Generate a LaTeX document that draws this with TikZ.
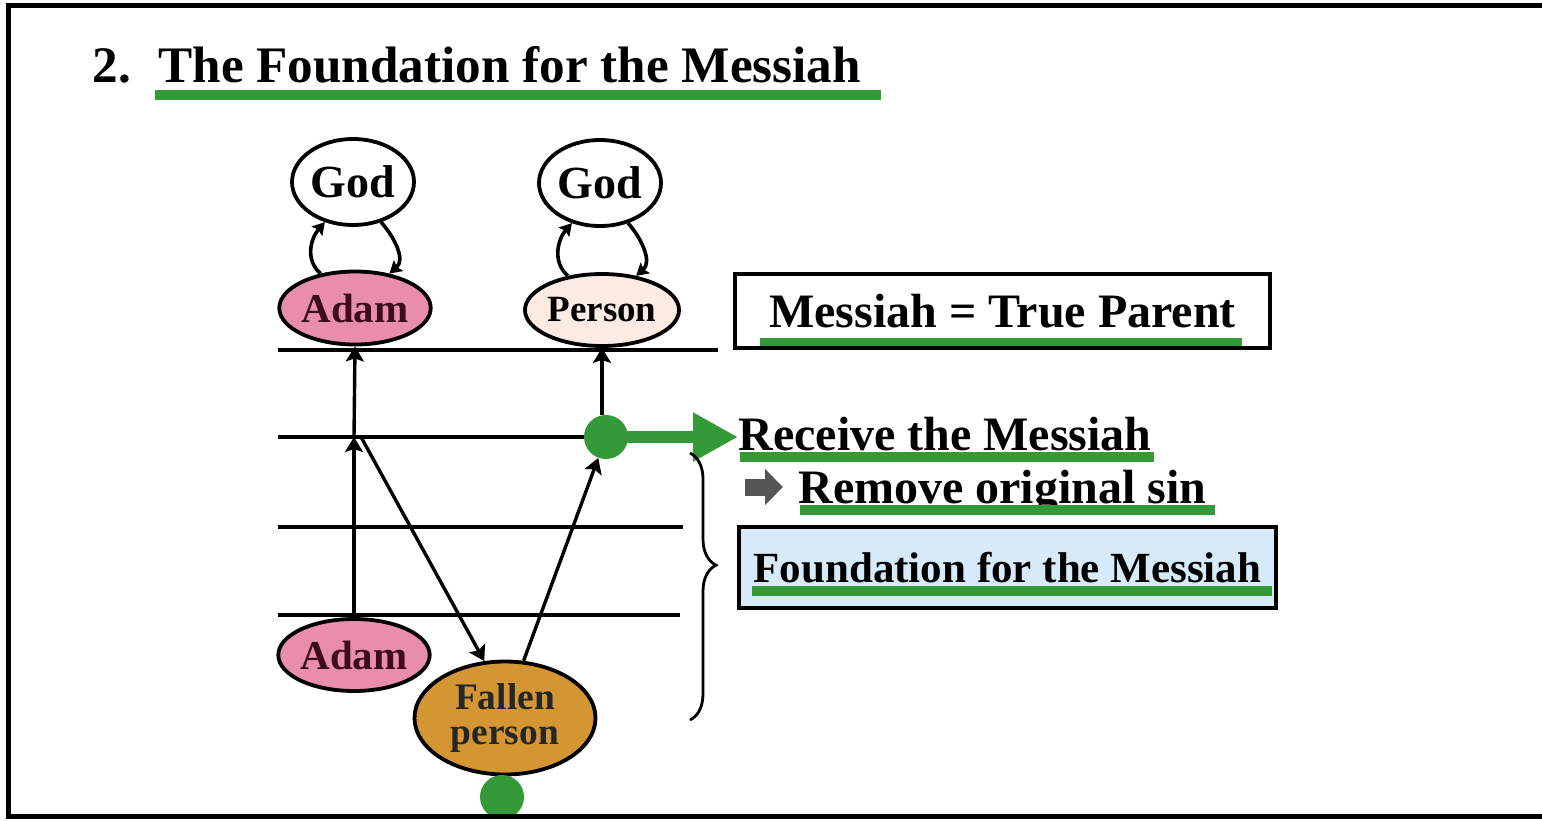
\documentclass[tikz,border=0pt]{standalone}
\usepackage{fontspec}
\setmainfont{Liberation Serif}
\usepackage{tikz}
\usetikzlibrary{arrows.meta, calc, decorations.pathreplacing, shapes.geometric, positioning}

\definecolor{gline}{RGB}{51,154,55}
\definecolor{adampink}{RGB}{232,142,172}
\definecolor{adamtext}{RGB}{60,12,28}
\definecolor{personfill}{RGB}{252,235,226}
\definecolor{fallenfill}{RGB}{212,150,50}
\definecolor{boxblue}{RGB}{214,234,250}
\definecolor{arrowgray}{RGB}{85,85,85}

\begin{document}
\begin{tikzpicture}[x=0.5pt, y=-0.5pt,
  oval/.style={ellipse, draw, line width=1.9pt, inner sep=0pt},
  godoval/.style={oval, fill=white, minimum width=61pt, minimum height=43pt,
                  font=\bfseries\fontsize{23}{23}\selectfont},
  txt/.style={inner sep=0pt, font=\bfseries\fontsize{24}{24}\selectfont},
  textbox/.style={draw, line width=2pt, inner sep=0pt},
  level/.style={line width=2pt},
  arrow/.style={-{Stealth[length=7.5pt,width=9pt,inset=1.5pt]}, line width=1.7pt},
  arrowsm/.style={-{Stealth[length=6pt,width=7pt,inset=1pt]}, line width=1.8pt},
  garrow/.style={gline, line width=6pt, -{Triangle[length=22.5pt,width=23pt]}},
  grayarrow/.style={arrowgray, line width=8.5pt, -{Triangle[length=9pt,width=17.5pt]}},
  uline/.style={gline, line width=5pt},
  dot/.style={circle, fill=gline, inner sep=0pt, minimum size=22pt},
]
\useasboundingbox (0,0) rectangle (1542,820);

% Titre
\node[txt, anchor=base west, font=\bfseries\fontsize{25.6}{25.6}\selectfont] (num) at (92,82) {2.};
\node[txt, anchor=base west, font=\bfseries\fontsize{25.6}{25.6}\selectfont] (title) at (158,82) {The Foundation for the Messiah};
\draw[uline] ($(title.base west)+(-3,13)$) -- ($(title.base east)+(20,13)$);

% Niveaux
\coordinate (l1w) at (278,350); \coordinate (l1e) at (718,350);
\coordinate (l2w) at (278,437);
\coordinate (l3w) at (278,527); \coordinate (l3e) at (683,527);
\coordinate (l4w) at (278,615); \coordinate (l4e) at (680,615);
\draw[level] (l1w) -- (l1e);
\draw[level] (l3w) -- (l3e);
\draw[level] (l4w) -- (l4e);

% Ovales
\node[godoval] (godA) at (353,182) {God};
\node[godoval] (godB) at (600,183) {God};
\node[oval, fill=adampink, text=adamtext, minimum width=70.5pt, minimum height=36.5pt,
      font=\bfseries\fontsize{20.5}{20.5}\selectfont] (adamT) at (355,308) {Adam};
\node[oval, fill=personfill, minimum width=67pt, minimum height=36pt,
      font=\bfseries\fontsize{18.5}{18.5}\selectfont] (person) at (602,310) {Person};
\node[oval, fill=adampink, text=adamtext, minimum width=69pt, minimum height=36pt,
      font=\bfseries\fontsize{20.5}{20.5}\selectfont] (adamB) at (354,655) {Adam};
\node[oval, fill=fallenfill, text=black!85, minimum width=90.5pt, minimum height=56.5pt, align=center,
      font=\bfseries\fontsize{18.7}{17.5}\selectfont] (fallen) at (505,718) {Fallen\\person};

% Points verts
\node[dot] (dot) at (606,437) {};
\node[dot] (dotB) at (502,797) {};
\draw[level] (l2w) -- (dot);

% Echanges Dieu / homme
\draw[arrowsm] (adamT.135) .. controls ($(adamT.135)+(-16,-14)$) and ($(godA.235)+(-14,16)$) .. (godA.235);
\draw[arrowsm] (godA.305) .. controls ($(godA.305)+(14,16)$) and ($(adamT.45)+(16,-14)$) .. (adamT.45);
\draw[arrowsm] (person.135) .. controls ($(person.135)+(-16,-14)$) and ($(godB.235)+(-14,16)$) .. (godB.235);
\draw[arrowsm] (godB.305) .. controls ($(godB.305)+(14,16)$) and ($(person.45)+(16,-14)$) .. (person.45);

% Flèches
\coordinate (cross) at (adamB.north |- l2w);
\draw[arrow] (adamB.north) -- (cross);
\draw[arrow] (cross) -- (adamT.south);
\draw[arrow] ($(cross)+(7,0)$) -- (fallen.110);
\draw[arrow] (fallen.72) -- (dot);
\draw[arrow] (person.south |- dot.north) -- (person.south);

% Textes à droite
\node[textbox, minimum width=267.5pt, minimum height=37pt, font=\bfseries\fontsize{24}{24}\selectfont] (mtp) at (1002.5,311) {Messiah = True Parent};
\draw[uline, line width=4pt] ($(mtp.south west)+(27,-8)$) -- ($(mtp.south east)+(-30,-8)$);

\node[txt, anchor=base west] (recv) at (738,450) {Receive the Messiah};
\draw[uline] ($(recv.base west)+(2,7)$) -- ($(recv.base east)+(2,7)$);
\draw[garrow] (dot.center) -- (dot.center -| recv.west);

\node[txt, anchor=base west] (rem) at (798,503) {Remove original sin};
\draw[uline] ($(rem.base west)+(2,7)$) -- ($(rem.base east)+(8,7)$);
\draw[grayarrow] ($(rem.base west)+(-53,-16)$) -- ($(rem.base west)+(-15,-16)$);

\node[textbox, fill=boxblue, minimum width=268.5pt, minimum height=40.5pt,
      font=\bfseries\fontsize{21.5}{21.5}\selectfont] (fdn) at (1007.5,567.5) {Foundation for the Messiah};
\draw[uline] ($(fdn.south west)+(15,-19)$) -- ($(fdn.south east)+(-6,-19)$);

% Accolade
\coordinate (brtop) at (690,453);
\coordinate (brbot) at (690,720);
\draw[decorate, decoration={brace, amplitude=13pt, aspect=0.42}, line width=1.4pt] (brtop) -- (brbot);

% Cadre
\draw[line width=2.5pt] (1542,5.5) -- (8,5.5) -- (8,816) -- (1542,816);
\end{tikzpicture}
\end{document}
